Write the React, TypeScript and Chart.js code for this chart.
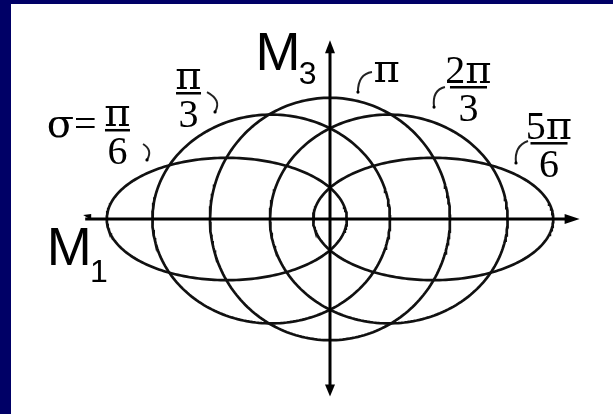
import React, { useEffect, useRef } from "react";
import { Chart, registerables } from "chart.js";

Chart.register(...registerables);

// σ values of the five curves (numerator / denominator as printed)
const sigmaNumerators = ["π", "π", "π", "2π", "5π"];
const sigmaDenominators = ["6", "3", "", "3", "6"];
// Each curve is an oval: centre on the M1 axis, half-width along M1, half-height along M3
const centersM1 = [-0.86, -0.49, 0, 0.49, 0.86];
const halfWidthsM1 = [1.0, 0.99, 1.0, 0.99, 1.0];
const halfHeightsM3 = [0.51, 0.87, 1.01, 0.87, 0.51];
// label anchors (data units): fraction centre on M1, fraction bar on M3
const labelM1 = [-1.771, -1.179, 0.471, 1.154, 1.825];
const labelM3 = [0.742, 1.05, 1.108, 1.1, 0.633];
// leader hooks (start, control, end) in data units
const hookStart = [[-1.558, 0.625], [-1.025, 1.058], [0.35, 1.225], [0.958, 1.1], [1.65, 0.65]];
const hookCtrl = [[-1.475, 0.575], [-0.9, 0.992], [0.233, 1.208], [0.85, 1.075], [1.533, 0.608]];
const hookEnd = [[-1.525, 0.492], [-0.958, 0.892], [0.233, 1.058], [0.867, 0.933], [1.55, 0.467]];
// axes extents
const axisM1 = [-2.04, 2.08];
const axisM3 = [-1.48, 1.49];

const X_MIN = -2.6583;
const X_MAX = 2.3583;
const Y_MIN = -1.625;
const Y_MAX = 1.7917;

function ovalPoints(i: number) {
  const pts: { x: number; y: number }[] = [];
  const n = 240;
  for (let k = 0; k <= n; k++) {
    const t = (2 * Math.PI * k) / n;
    pts.push({
      x: centersM1[i] + halfWidthsM1[i] * Math.cos(t),
      y: halfHeightsM3[i] * Math.sin(t),
    });
  }
  return pts;
}

const SERIF = "'Liberation Serif', 'Times New Roman', serif";
const GREEK = "'DejaVu Serif', serif";
const SANS = "'Liberation Sans', Arial, sans-serif";

type Run = { t: string; font: string };

function runsFor(s: string, size: number): Run[] {
  return s.split("").map((c) => ({
    t: c,
    font: /[πσ]/.test(c) ? `${size}px ${GREEK}` : `${size}px ${SERIF}`,
  }));
}

function runWidth(ctx: CanvasRenderingContext2D, runs: Run[]) {
  let w = 0;
  for (const r of runs) {
    ctx.font = r.font;
    w += ctx.measureText(r.t).width;
  }
  return w;
}

function drawRuns(ctx: CanvasRenderingContext2D, runs: Run[], x: number, y: number) {
  let cx = x;
  for (const r of runs) {
    ctx.font = r.font;
    ctx.fillText(r.t, cx, y);
    cx += ctx.measureText(r.t).width;
  }
}

const overlay = {
  id: "overlay",
  afterDatasetsDraw(chart: any) {
    const ctx: CanvasRenderingContext2D = chart.ctx;
    const xs = chart.scales.x;
    const ys = chart.scales.y;
    const X = (v: number) => xs.getPixelForValue(v);
    const Y = (v: number) => ys.getPixelForValue(v);
    ctx.save();
    ctx.fillStyle = "#000";
    ctx.strokeStyle = "#000";

    // axes
    ctx.lineWidth = 3;
    const y0 = Y(0);
    const x0 = X(0);
    const xl = X(axisM1[0]);
    const xr = X(axisM1[1]);
    const yt = Y(axisM3[1]);
    const yb = Y(axisM3[0]);
    ctx.beginPath();
    ctx.moveTo(xl, y0);
    ctx.lineTo(xr - 10, y0);
    ctx.moveTo(x0, yt + 10);
    ctx.lineTo(x0, yb - 10);
    ctx.stroke();
    // arrow heads
    ctx.beginPath();
    ctx.moveTo(xr, y0);
    ctx.lineTo(xr - 15, y0 - 5);
    ctx.lineTo(xr - 15, y0 + 5);
    ctx.closePath();
    ctx.fill();
    ctx.beginPath();
    ctx.moveTo(x0, yt);
    ctx.lineTo(x0 - 5, yt + 13);
    ctx.lineTo(x0 + 5, yt + 13);
    ctx.closePath();
    ctx.fill();
    ctx.beginPath();
    ctx.moveTo(x0, yb);
    ctx.lineTo(x0 - 5, yb - 12);
    ctx.lineTo(x0 + 5, yb - 12);
    ctx.closePath();
    ctx.fill();
    ctx.beginPath();
    ctx.moveTo(xl - 2, y0 - 4);
    ctx.lineTo(xl + 6, y0 - 5);
    ctx.lineTo(xl + 6, y0 + 1);
    ctx.closePath();
    ctx.fill();

    // axis titles
    ctx.textAlign = "left";
    ctx.textBaseline = "alphabetic";
    ctx.font = `54px ${SANS}`;
    ctx.fillText("M", X(-0.62), Y(1.242));
    ctx.font = `32px ${SANS}`;
    ctx.fillText("3", X(-0.26), Y(1.125));
    ctx.font = `54px ${SANS}`;
    ctx.fillText("M", X(-2.36), Y(-0.383));
    ctx.font = `32px ${SANS}`;
    ctx.fillText("1", X(-2.0), Y(-0.525));

    // sigma prefix
    drawRuns(ctx, runsFor("σ=", 40), X(-2.36), Y(0.683));

    // fractions
    for (let i = 0; i < sigmaNumerators.length; i++) {
      const cx = X(labelM1[i]);
      const by = Y(labelM3[i]);
      const num = runsFor(sigmaNumerators[i], 40);
      const nw = runWidth(ctx, num);
      drawRuns(ctx, num, cx - nw / 2, by - 4);
      const den = sigmaDenominators[i];
      if (den) {
        const bw = Math.max(nw * 0.8, 25);
        ctx.fillRect(cx - bw / 2, by - 1, bw, 2.5);
        const d = runsFor(den, 40);
        const dw = runWidth(ctx, d);
        drawRuns(ctx, d, cx - dw / 2, by + 34);
      }
      // leader hook
      ctx.lineWidth = 2;
      ctx.strokeStyle = "#222";
      ctx.beginPath();
      ctx.moveTo(X(hookStart[i][0]), Y(hookStart[i][1]));
      ctx.quadraticCurveTo(X(hookCtrl[i][0]), Y(hookCtrl[i][1]), X(hookEnd[i][0]), Y(hookEnd[i][1]));
      ctx.stroke();
      ctx.beginPath();
      ctx.arc(X(hookEnd[i][0]), Y(hookEnd[i][1]), 1.6, 0, Math.PI * 2);
      ctx.fill();
    }
    ctx.restore();
  },
};

export default function App() {
  const canvasRef = useRef<HTMLCanvasElement | null>(null);

  useEffect(() => {
    const canvas = canvasRef.current;
    if (!canvas) return;
    const datasets = sigmaNumerators.map((n, i) => ({
      label: `σ=${n}${sigmaDenominators[i] ? "/" + sigmaDenominators[i] : ""}`,
      data: ovalPoints(i),
      showLine: true,
      borderColor: "#111111",
      borderWidth: 2.7,
      pointRadius: 0,
      fill: false,
      tension: 0,
    }));
    const chart = new Chart(canvas, {
      type: "scatter",
      data: { datasets },
      options: {
        responsive: false,
        animation: false,
        events: [],
        layout: { padding: 0 },
        plugins: { legend: { display: false }, tooltip: { enabled: false }, title: { display: false } },
        scales: {
          x: { type: "linear", min: X_MIN, max: X_MAX, display: false },
          y: { type: "linear", min: Y_MIN, max: Y_MAX, display: false },
        },
      },
      plugins: [overlay],
    });
    return () => chart.destroy();
  }, []);

  return (
    <div style={{ position: "fixed", left: 0, top: 0, width: 613, height: 414, background: "#000066", overflow: "hidden" }}>
      <div style={{ position: "absolute", left: 11, top: 4, width: 602, height: 410, background: "#ffffff" }}>
        <canvas ref={canvasRef} width={602} height={410} style={{ display: "block" }} />
      </div>
    </div>
  );
}
